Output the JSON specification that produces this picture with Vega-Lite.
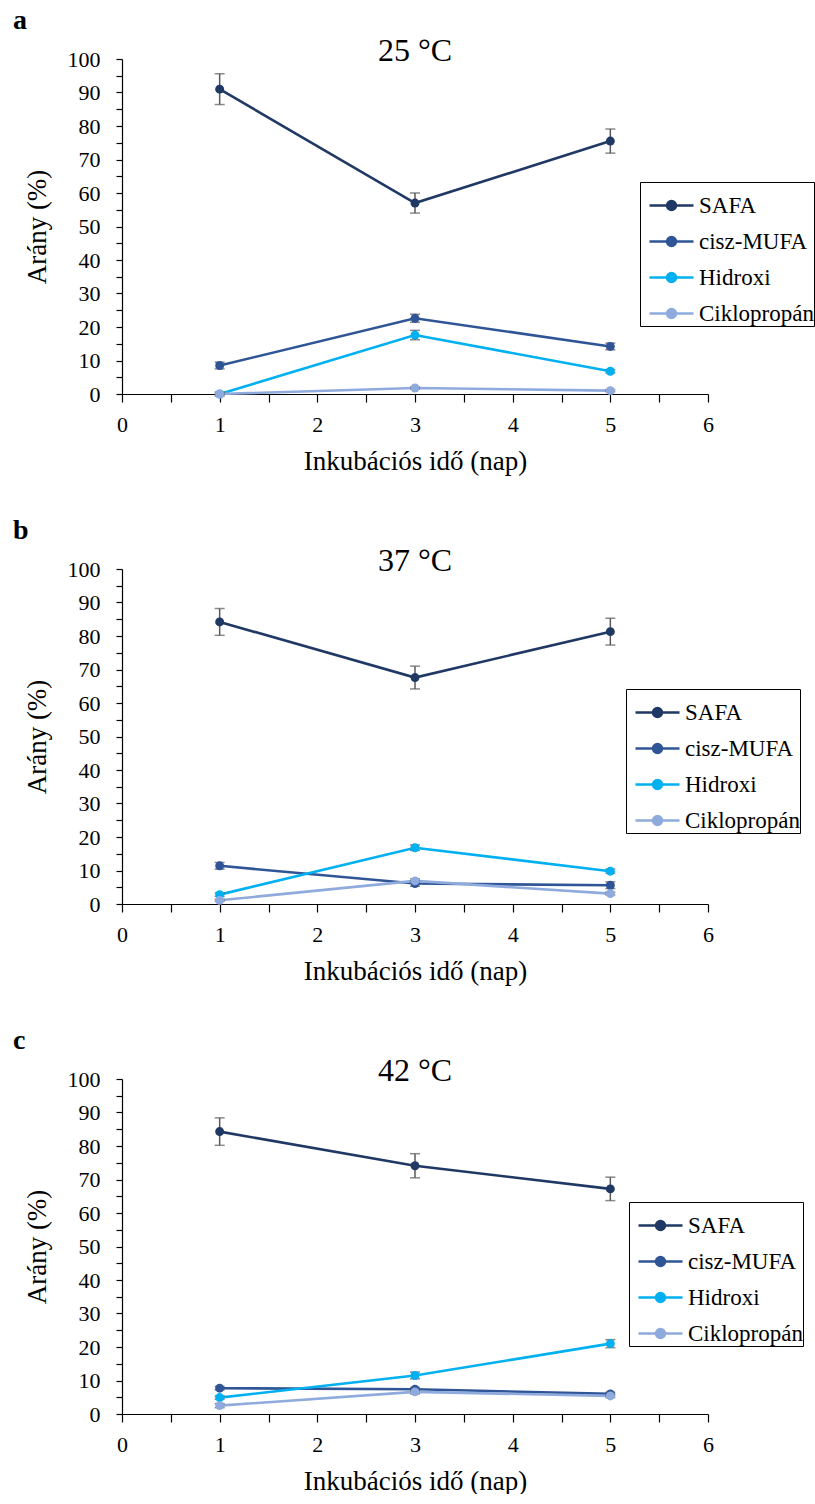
{
  "$schema": "https://vega.github.io/schema/vega-lite/v6.json",
  "background": "white",
  "padding": {"left": 13, "top": 7, "right": 0, "bottom": 0},
  "datasets": {
    "fa": [
      {"panel": "a", "series": "SAFA", "day": 1, "value": 91.0, "err": 4.6},
      {"panel": "a", "series": "SAFA", "day": 3, "value": 57.0, "err": 3.0},
      {"panel": "a", "series": "SAFA", "day": 5, "value": 75.5, "err": 3.6},
      {"panel": "a", "series": "cisz-MUFA", "day": 1, "value": 8.5, "err": 1.0},
      {"panel": "a", "series": "cisz-MUFA", "day": 3, "value": 22.6, "err": 1.2},
      {"panel": "a", "series": "cisz-MUFA", "day": 5, "value": 14.2, "err": 1.0},
      {"panel": "a", "series": "Hidroxi", "day": 1, "value": 0.0, "err": 0.6},
      {"panel": "a", "series": "Hidroxi", "day": 3, "value": 17.6, "err": 1.4},
      {"panel": "a", "series": "Hidroxi", "day": 5, "value": 6.8, "err": 0.5},
      {"panel": "a", "series": "Ciklopropán", "day": 1, "value": 0.0, "err": 0.2},
      {"panel": "a", "series": "Ciklopropán", "day": 3, "value": 1.8, "err": 0.3},
      {"panel": "a", "series": "Ciklopropán", "day": 5, "value": 1.0, "err": 0.3},
      {"panel": "b", "series": "SAFA", "day": 1, "value": 84.2, "err": 4.0},
      {"panel": "b", "series": "SAFA", "day": 3, "value": 67.6, "err": 3.4},
      {"panel": "b", "series": "SAFA", "day": 5, "value": 81.3, "err": 4.0},
      {"panel": "b", "series": "cisz-MUFA", "day": 1, "value": 11.4, "err": 1.0},
      {"panel": "b", "series": "cisz-MUFA", "day": 3, "value": 6.1, "err": 0.8},
      {"panel": "b", "series": "cisz-MUFA", "day": 5, "value": 5.6, "err": 1.0},
      {"panel": "b", "series": "Hidroxi", "day": 1, "value": 2.8, "err": 0.5},
      {"panel": "b", "series": "Hidroxi", "day": 3, "value": 16.8, "err": 0.8},
      {"panel": "b", "series": "Hidroxi", "day": 5, "value": 9.8, "err": 0.6},
      {"panel": "b", "series": "Ciklopropán", "day": 1, "value": 1.1, "err": 0.3},
      {"panel": "b", "series": "Ciklopropán", "day": 3, "value": 6.9, "err": 0.6},
      {"panel": "b", "series": "Ciklopropán", "day": 5, "value": 3.1, "err": 0.4},
      {"panel": "c", "series": "SAFA", "day": 1, "value": 84.3, "err": 4.1},
      {"panel": "c", "series": "SAFA", "day": 3, "value": 74.1, "err": 3.6},
      {"panel": "c", "series": "SAFA", "day": 5, "value": 67.2, "err": 3.5},
      {"panel": "c", "series": "cisz-MUFA", "day": 1, "value": 7.7, "err": 0.5},
      {"panel": "c", "series": "cisz-MUFA", "day": 3, "value": 7.4, "err": 0.5},
      {"panel": "c", "series": "cisz-MUFA", "day": 5, "value": 6.0, "err": 0.5},
      {"panel": "c", "series": "Hidroxi", "day": 1, "value": 4.9, "err": 0.5},
      {"panel": "c", "series": "Hidroxi", "day": 3, "value": 11.5, "err": 1.0},
      {"panel": "c", "series": "Hidroxi", "day": 5, "value": 21.0, "err": 1.2},
      {"panel": "c", "series": "Ciklopropán", "day": 1, "value": 2.5, "err": 0.6},
      {"panel": "c", "series": "Ciklopropán", "day": 3, "value": 6.6, "err": 0.6},
      {"panel": "c", "series": "Ciklopropán", "day": 5, "value": 5.4, "err": 0.5}
    ]
  },
  "data": {"name": "fa"},
  "config": {
    "font": "Liberation Serif",
    "view": {"stroke": null},
    "style": {
      "guide-label": {"font": "Liberation Serif", "fill": "#000000"},
      "guide-title": {"font": "Liberation Serif", "fill": "#000000"}
    },
    "axis": {
      "grid": false,
      "domainColor": "#000000",
      "domainWidth": 1.2,
      "tickColor": "#000000",
      "tickWidth": 1.2,
      "labelColor": "#000000",
      "labelFont": "Liberation Serif",
      "labelFontSize": 22,
      "titleFont": "Liberation Serif",
      "titleFontSize": 27,
      "titleFontWeight": "normal",
      "titleColor": "#000000"
    },
    "title": {"font": "Liberation Serif", "color": "#000000"},
    "legend": {"labelFont": "Liberation Serif", "labelFontSize": 23, "labelColor": "#000000"}
  },
  "spacing": 43,
  "resolve": {"legend": {"color": "independent"}},
  "vconcat": [
    {
      "title": {"text": "a", "anchor": "start", "fontSize": 28, "fontWeight": "bold", "frame": "bounds", "offset": 0, "dx": -10},
      "resolve": {"legend": {"color": "independent"}},
      "vconcat": [
        {
          "width": 586, "height": 335,
          "title": {"text": "25 °C", "fontSize": 32, "fontWeight": "normal", "anchor": "middle", "frame": "group", "offset": -20},
          "transform": [{"filter": "datum.panel === 'a'"}],
          "encoding": {
            "x": {"field": "day", "type": "quantitative", "scale": {"domain": [0, 6], "nice": false},
              "axis": {"title": "Inkubációs  idő (nap)", "labelFont": "Liberation Serif", "titleFont": "Liberation Serif", "values": [0, 0.5, 1, 1.5, 2, 2.5, 3, 3.5, 4, 4.5, 5, 5.5, 6], "labelExpr": "datum.value % 1 === 0 ? format(datum.value, 'd') : ''", "tickSize": 8, "labelPadding": 12, "titlePadding": 13, "labelFlush": false}},
            "y": {"field": "value", "type": "quantitative", "scale": {"domain": [0, 100], "nice": false},
              "axis": {"title": "Arány (%)", "labelFont": "Liberation Serif", "titleFont": "Liberation Serif", "values": [0, 5, 10, 15, 20, 25, 30, 35, 40, 45, 50, 55, 60, 65, 70, 75, 80, 85, 90, 95, 100], "labelExpr": "datum.value % 10 === 0 ? format(datum.value, 'd') : ''", "tickSize": 6, "labelPadding": 16, "titlePadding": 16, "labelFlush": false}}
          },
          "layer": [
            {"mark": {"type": "line", "strokeWidth": 2.6},
              "encoding": {"color": {"field": "series", "type": "nominal",
                "scale": {"domain": ["SAFA", "cisz-MUFA", "Hidroxi", "Ciklopropán"], "range": ["#203864", "#2F5597", "#00B0F0", "#8FAADC"]},
                "legend": {"title": null, "orient": "none", "legendX": 518, "legendY": 123, "strokeColor": "#000000", "padding": 0, "symbolOffset": 8, "labelFont": "Liberation Serif", "symbolType": "M-1,0L1,0M-0.2,0A0.2,0.2,0,1,1,0.2,0A0.2,0.2,0,1,1,-0.2,0Z", "symbolSize": 1936, "symbolStrokeWidth": 2.6, "rowPadding": 0, "labelOffset": 4, "labelLimit": 300,
                  "encode": {"symbols": {"update": {"fill": {"scale": "color", "field": "value"}, "stroke": {"scale": "color", "field": "value"}, "opacity": {"value": 1}}}}}}}},
            {"mark": {"type": "errorbar", "thickness": 1.5, "ticks": {"size": 10, "color": "#595959"}, "rule": {"color": "#595959"}},
              "encoding": {"yError": {"field": "err"}}},
            {"mark": {"type": "point", "filled": true, "size": 80, "opacity": 1},
              "encoding": {"color": {"field": "series", "type": "nominal"}}}
          ]
        }
      ]
    },
    {
      "title": {"text": "b", "anchor": "start", "fontSize": 28, "fontWeight": "bold", "frame": "bounds", "offset": 0, "dx": -10},
      "resolve": {"legend": {"color": "independent"}},
      "vconcat": [
        {
          "width": 586, "height": 335,
          "title": {"text": "37 °C", "fontSize": 32, "fontWeight": "normal", "anchor": "middle", "frame": "group", "offset": -20},
          "transform": [{"filter": "datum.panel === 'b'"}],
          "encoding": {
            "x": {"field": "day", "type": "quantitative", "scale": {"domain": [0, 6], "nice": false},
              "axis": {"title": "Inkubációs  idő (nap)", "labelFont": "Liberation Serif", "titleFont": "Liberation Serif", "values": [0, 0.5, 1, 1.5, 2, 2.5, 3, 3.5, 4, 4.5, 5, 5.5, 6], "labelExpr": "datum.value % 1 === 0 ? format(datum.value, 'd') : ''", "tickSize": 8, "labelPadding": 12, "titlePadding": 13, "labelFlush": false}},
            "y": {"field": "value", "type": "quantitative", "scale": {"domain": [0, 100], "nice": false},
              "axis": {"title": "Arány (%)", "labelFont": "Liberation Serif", "titleFont": "Liberation Serif", "values": [0, 5, 10, 15, 20, 25, 30, 35, 40, 45, 50, 55, 60, 65, 70, 75, 80, 85, 90, 95, 100], "labelExpr": "datum.value % 10 === 0 ? format(datum.value, 'd') : ''", "tickSize": 6, "labelPadding": 16, "titlePadding": 16, "labelFlush": false}}
          },
          "layer": [
            {"mark": {"type": "line", "strokeWidth": 2.6},
              "encoding": {"color": {"field": "series", "type": "nominal",
                "scale": {"domain": ["SAFA", "cisz-MUFA", "Hidroxi", "Ciklopropán"], "range": ["#203864", "#2F5597", "#00B0F0", "#8FAADC"]},
                "legend": {"title": null, "orient": "none", "legendX": 504, "legendY": 120, "strokeColor": "#000000", "padding": 0, "symbolOffset": 8, "labelFont": "Liberation Serif", "symbolType": "M-1,0L1,0M-0.2,0A0.2,0.2,0,1,1,0.2,0A0.2,0.2,0,1,1,-0.2,0Z", "symbolSize": 1936, "symbolStrokeWidth": 2.6, "rowPadding": 0, "labelOffset": 4, "labelLimit": 300,
                  "encode": {"symbols": {"update": {"fill": {"scale": "color", "field": "value"}, "stroke": {"scale": "color", "field": "value"}, "opacity": {"value": 1}}}}}}}},
            {"mark": {"type": "errorbar", "thickness": 1.5, "ticks": {"size": 10, "color": "#595959"}, "rule": {"color": "#595959"}},
              "encoding": {"yError": {"field": "err"}}},
            {"mark": {"type": "point", "filled": true, "size": 80, "opacity": 1},
              "encoding": {"color": {"field": "series", "type": "nominal"}}}
          ]
        }
      ]
    },
    {
      "title": {"text": "c", "anchor": "start", "fontSize": 28, "fontWeight": "bold", "frame": "bounds", "offset": 0, "dx": -10},
      "resolve": {"legend": {"color": "independent"}},
      "vconcat": [
        {
          "width": 586, "height": 335,
          "title": {"text": "42 °C", "fontSize": 32, "fontWeight": "normal", "anchor": "middle", "frame": "group", "offset": -20},
          "transform": [{"filter": "datum.panel === 'c'"}],
          "encoding": {
            "x": {"field": "day", "type": "quantitative", "scale": {"domain": [0, 6], "nice": false},
              "axis": {"title": "Inkubációs  idő (nap)", "labelFont": "Liberation Serif", "titleFont": "Liberation Serif", "values": [0, 0.5, 1, 1.5, 2, 2.5, 3, 3.5, 4, 4.5, 5, 5.5, 6], "labelExpr": "datum.value % 1 === 0 ? format(datum.value, 'd') : ''", "tickSize": 8, "labelPadding": 12, "titlePadding": 13, "labelFlush": false}},
            "y": {"field": "value", "type": "quantitative", "scale": {"domain": [0, 100], "nice": false},
              "axis": {"title": "Arány (%)", "labelFont": "Liberation Serif", "titleFont": "Liberation Serif", "values": [0, 5, 10, 15, 20, 25, 30, 35, 40, 45, 50, 55, 60, 65, 70, 75, 80, 85, 90, 95, 100], "labelExpr": "datum.value % 10 === 0 ? format(datum.value, 'd') : ''", "tickSize": 6, "labelPadding": 16, "titlePadding": 16, "labelFlush": false}}
          },
          "layer": [
            {"mark": {"type": "line", "strokeWidth": 2.6},
              "encoding": {"color": {"field": "series", "type": "nominal",
                "scale": {"domain": ["SAFA", "cisz-MUFA", "Hidroxi", "Ciklopropán"], "range": ["#203864", "#2F5597", "#00B0F0", "#8FAADC"]},
                "legend": {"title": null, "orient": "none", "legendX": 507, "legendY": 123, "strokeColor": "#000000", "padding": 0, "symbolOffset": 8, "labelFont": "Liberation Serif", "symbolType": "M-1,0L1,0M-0.2,0A0.2,0.2,0,1,1,0.2,0A0.2,0.2,0,1,1,-0.2,0Z", "symbolSize": 1936, "symbolStrokeWidth": 2.6, "rowPadding": 0, "labelOffset": 4, "labelLimit": 300,
                  "encode": {"symbols": {"update": {"fill": {"scale": "color", "field": "value"}, "stroke": {"scale": "color", "field": "value"}, "opacity": {"value": 1}}}}}}}},
            {"mark": {"type": "errorbar", "thickness": 1.5, "ticks": {"size": 10, "color": "#595959"}, "rule": {"color": "#595959"}},
              "encoding": {"yError": {"field": "err"}}},
            {"mark": {"type": "point", "filled": true, "size": 80, "opacity": 1},
              "encoding": {"color": {"field": "series", "type": "nominal"}}}
          ]
        }
      ]
    }
  ]
}
